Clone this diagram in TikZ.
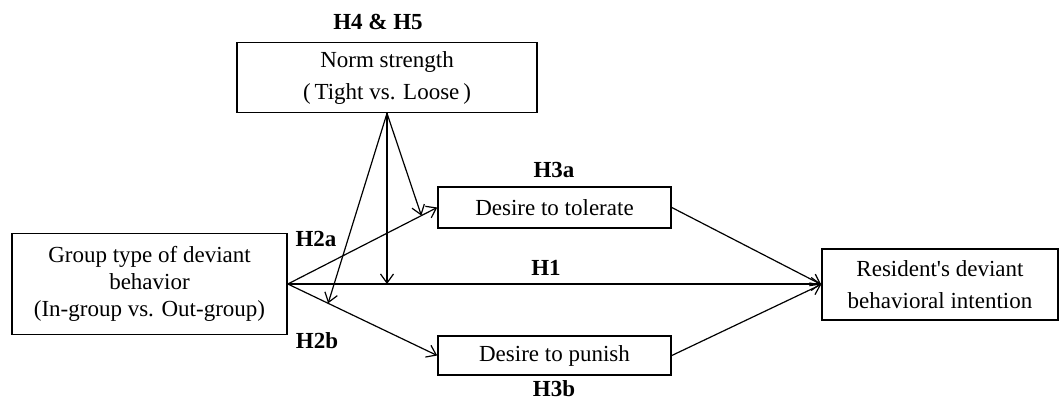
\documentclass[tikz,border=0pt]{standalone}
\usepackage{fontspec}
\setmainfont{Liberation Serif}
\newfontfamily\plainserif{Liberation Serif}
\usetikzlibrary{arrows.meta,calc}
\begin{document}
\begin{tikzpicture}[x=1pt,y=-1pt,
  box/.style={draw, line width=1.6pt, inner sep=0pt, align=center,
    font=\fontsize{23}{26}\selectfont},
  lab/.style={font=\fontsize{23}{26}\selectfont\bfseries, inner sep=0pt},
  conn/.style={line width=1.2pt, -{Straight Barb[length=9pt,width=13pt,line width=1.2pt]}}]
\useasboundingbox (0,0) rectangle (1059,400);
\node[box, minimum width=300pt, minimum height=70pt, font=\fontsize{23}{32}\selectfont] (norm) at (387,77.5) {Norm strength\\(\,Tight vs. Loose\,)};
\node[box, minimum width=233pt, minimum height=41pt] (tol) at (554.5,207.5) {Desire to tolerate};
\node[box, minimum width=233pt, minimum height=39pt] (pun) at (554.5,355.5) {Desire to punish};
\node[box, minimum width=275pt, minimum height=101pt, font=\fontsize{23}{27}\selectfont] (grp) at (149.5,284) {Group type of deviant\\behavior\\(In-group vs. Out-group)};
\node[box, minimum width=236pt, minimum height=71pt, font=\plainserif\fontsize{23}{32}\selectfont] (res) at (940,284.5) {Resident's deviant\\behavioral intention};
\node[lab] (l45) at (378,22) {H4 \& H5};
\node[lab] (l3a) at (554,170) {H3a};
\node[lab] (l3b) at (554,389) {H3b};
\node[lab] (l2a) at (316,239) {H2a};
\node[lab] (l2b) at (317,341) {H2b};
\node[lab] (l1) at (546,268) {H1};
\coordinate (m1) at (387,284);
\coordinate (m2) at ($(grp.east)!0.894!(tol.west)$);
\coordinate (m3) at ($(grp.east)!0.27!(pun.west)$);
\draw[conn] (grp.east) -- (res.west |- grp.east);
\draw[conn] (grp.east) -- (tol.west);
\draw[conn] (grp.east) -- (pun.west);
\draw[conn] (tol.east) -- (res.west);
\draw[conn] (pun.east) -- (res.west);
\draw[conn] (norm.south) -- (m1);
\draw[conn] (norm.south) -- (m2);
\draw[conn] (norm.south) -- (m3);
\end{tikzpicture}
\end{document}
